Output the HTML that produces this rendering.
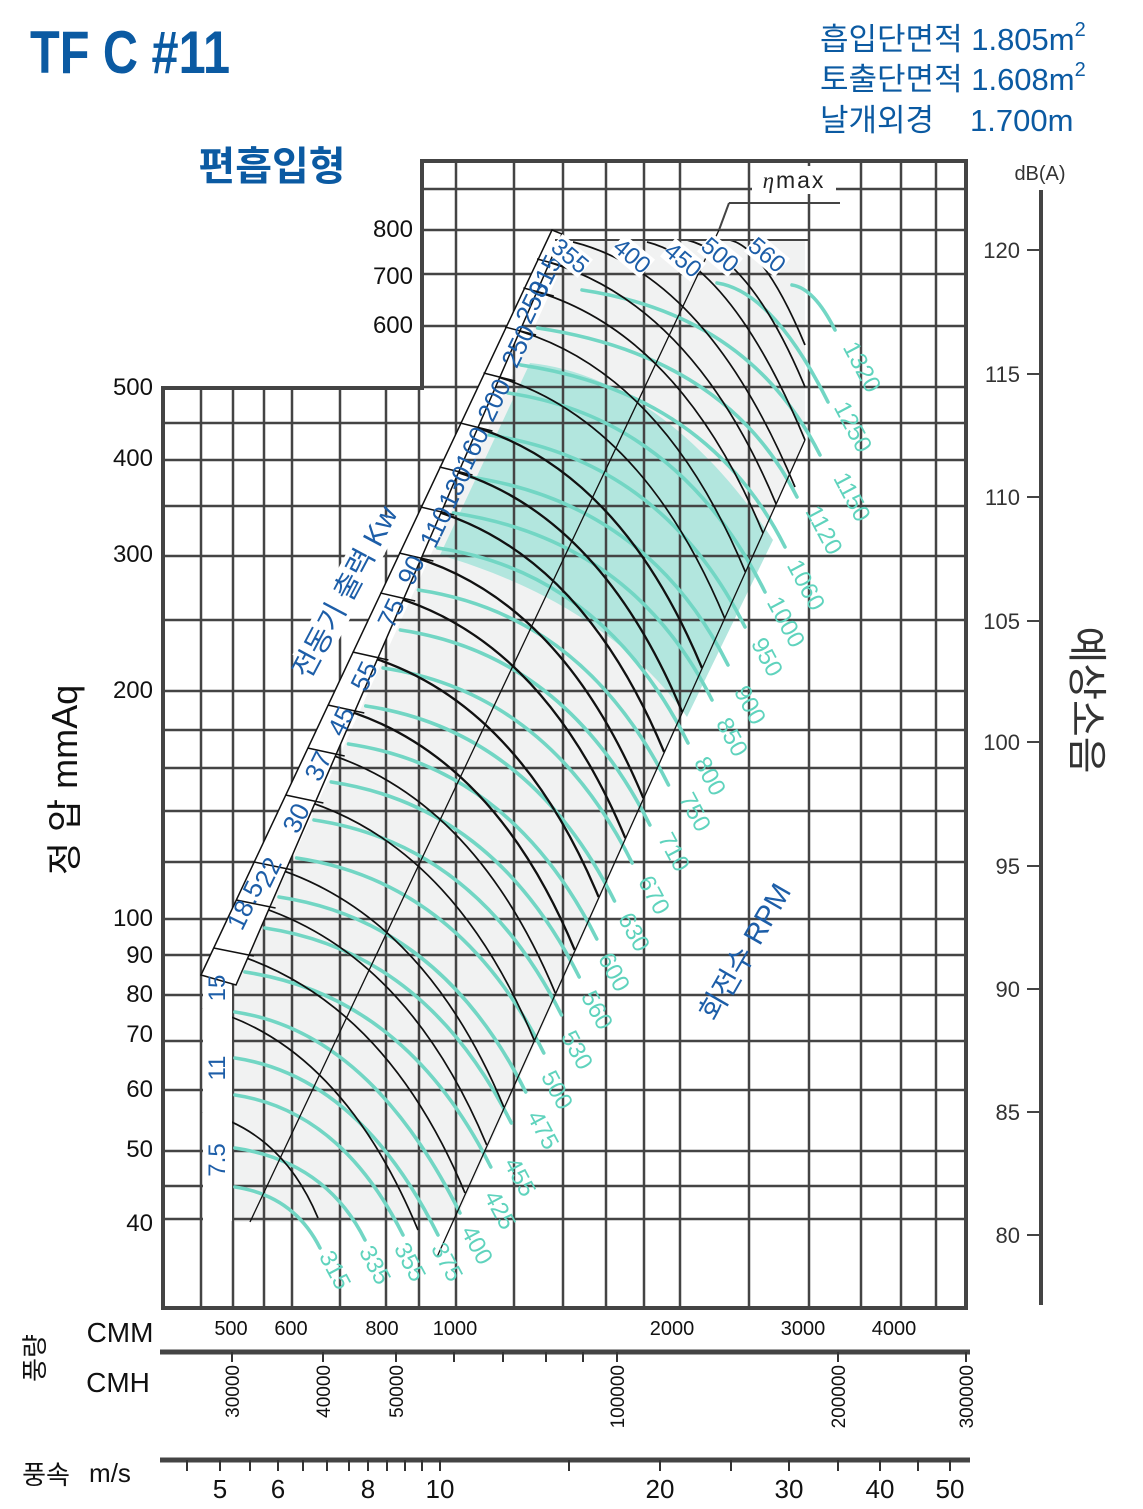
<!DOCTYPE html>
<html><head><meta charset="utf-8">
<style>
html,body{margin:0;padding:0;background:#fff;}
body{width:1143px;height:1509px;overflow:hidden;font-family:"Liberation Sans","Noto Sans CJK KR",sans-serif;}
svg{display:block}
</style></head><body>
<svg id="s" width="1143" height="1509" viewBox="0 0 1143 1509" xmlns="http://www.w3.org/2000/svg" font-family="Liberation Sans, Noto Sans CJK KR, sans-serif">
<rect width="1143" height="1509" fill="#fff"/>
<!-- light region -->
<polygon points="235,1222 235,985 574,240 805,240 805,440 455,1222" fill="#f1f2f2"/>
<!-- teal shaded region -->
<path d="M530,363 C600,370 690,415 773,540 L687,717 C640,650 560,590 440,555 Z" fill="#b2e6de"/>
<g id="grid" stroke="#444" stroke-width="2.5"></g>
<g id="curves"></g>
<!-- band -->
<polygon points="201,975 552,230 562,234 236,985" fill="#fff" stroke="#111" stroke-width="1.5"/>
<rect x="203" y="986" width="29" height="235" fill="#fff"/>
<g id="ticks" stroke="#111" stroke-width="1.5"></g>
<!-- frame -->
<polygon points="163,1308 163,388 422,388 422,161 966,161 966,1308" fill="none" stroke="#444" stroke-width="4"/>
<!-- top bracket -->
<line x1="555" y1="240" x2="809" y2="240" stroke="#444" stroke-width="2"/>
<line x1="729" y1="203" x2="840" y2="203" stroke="#444" stroke-width="2"/>
<line x1="729" y1="203" x2="719" y2="230" stroke="#444" stroke-width="2"/>
<rect x="752" y="166" width="84" height="28" fill="#fff"/>
<text x="794" y="188" font-size="23" text-anchor="middle" fill="#222" letter-spacing="2"><tspan font-style="italic" font-family="Liberation Serif, serif">η</tspan>max</text>
<g id="labels"></g>
</svg>
<script>
var NS="http://www.w3.org/2000/svg";
function el(p,t,a,txt){var e=document.createElementNS(NS,t);for(var k in a)e.setAttribute(k,a[k]);if(txt!==undefined)e.textContent=txt;p.appendChild(e);return e;}
var g=document.getElementById('grid'),c=document.getElementById('curves'),tk=document.getElementById('ticks'),lb=document.getElementById('labels');
var xs=[201,233,264,292,340,386,419,456,514,563,606,644,680,749,809,861,901,936];
xs.forEach(function(x){el(g,'line',{x1:x,y1:(x>422?161:388),x2:x,y2:1308});});
[189,230,274,326,387].forEach(function(y){el(g,'line',{x1:422,y1:y,x2:966,y2:y});});
[423,460,506,556,620,691,730,768,811,862,919,955,995,1041,1090,1151,1186,1219].forEach(function(y){el(g,'line',{x1:163,y1:y,x2:966,y2:y});});
function quad(S,E,s0,s1){var dx=E[0]-S[0],dy=E[1]-S[1];var u=(s1*dx-dy)/(s1-s0);if(u<0.05*dx)u=0.05*dx;if(u>0.95*dx)u=0.95*dx;var C=[S[0]+u,S[1]+s0*u];return "M"+S[0]+","+S[1]+" Q"+C[0].toFixed(1)+","+C[1].toFixed(1)+" "+E[0]+","+E[1];}
function xL(y){return 201+(975-y)/2.13;}
function xR(y){return 235+(985-y)/2.2;}
function xB(y){return 465+(1193-y)/2.215;}
function xT(y){return 488+(1173-y)/2.15;}
var teal=[["315",1187,[320,1248]],["335",1148,[365,1240]],["355",1095,[403,1235]],["375",1058,[438,1235]],["400",1012,[460,1213]],["425",972],["455",928],["475",897],["500",858],["530",820],["560",782],["600",744],["630",706],["670",668],["710",630],["750",590],["800",548],["850",513,[712,700]],["900",477,[728,665]],["950",435,[745,627]],["1000",393,[765,592]],["1060",365,[785,547]],["1120",328,[797,497]],["1150",290,[820,455],582],["1250",283,[828,402],717],["1320",285,[835,330],792]];
teal.forEach(function(t){var sy=t[1];var sx=t[3]||(sy>985?235:xR(sy)+4);var E=t[2];if(!E){var ey=sy+195;E=[+xT(ey).toFixed(1),ey];}
el(c,'path',{d:quad([+sx.toFixed(1),sy],E,0.15,2.0),fill:'none',stroke:'#72d6c4','stroke-width':3.6,'stroke-linecap':'round'});});
var blk=[[730,240,805,345],[687,240,805,387],[647,242,805,440],[573,242,795,487],[0,259],[0,288],[0,327],[0,373],[0,423],[0,467],[0,507],[0,553],[0,593],[0,652],[0,705],[0,748],[0,795],[0,862],[0,900],[0,948],[203,1008,418,1230],[203,1112,318,1218]];
blk.forEach(function(b){var sx=b[0]||xL(b[1]),sy=b[1],E;if(b[2])E=[b[2],b[3]];else{var ey=Math.min(sy+245,1195);E=[+xB(ey).toFixed(1),ey];}
el(c,'path',{d:quad([+sx.toFixed(1),sy],E,0.25,2.4),fill:'none',stroke:'#111','stroke-width':(sy>400&&sy<720?2.3:1.7)});
if(b[0]===0)el(tk,'line',{x1:xL(sy).toFixed(1),y1:sy,x2:(xR(sy)+2).toFixed(1),y2:sy+8});});
el(c,'line',{x1:250,y1:1222,x2:719,y2:230,stroke:'#111','stroke-width':1.3});
el(c,'line',{x1:437,y1:1257,x2:805,y2:440,stroke:'#111','stroke-width':1.3});
var tl=[["315",335,1270],["335",375,1265],["355",410,1262],["375",447,1262],["400",477,1245],["425",500,1210],["455",520,1177],["475",543,1130],["500",557,1090],["530",577,1050],["560",597,1010],["600",614,972],["630",634,932],["670",654,895],["710",674,852],["750",695,812],["800",710,776],["850",732,737],["900",750,705],["950",767,657],["1000",786,622],["1060",806,585],["1120",824,530],["1150",852,497],["1250",853,427],["1320",862,367]];
tl.forEach(function(t){el(lb,'text',{x:t[1],y:t[2]+8,'font-size':24,fill:'#5fd3bd','text-anchor':'middle',transform:'rotate(62 '+t[1]+' '+t[2]+')'},t[0]);});
var kw=[["18.5",245,905],["22",268,872],["30",296,818],["37",318,766],["45",341,721],["55",364,676],["75",391,613],["90",411,570],["110",436,527],["130",455,487],["160",472,448],["200",494,400],["250",518,346],["250",532,302],["315",545,276]];
kw.forEach(function(t){el(lb,'text',{x:t[1],y:t[2]+9,'font-size':26,fill:'#1d5ea8','text-anchor':'middle',transform:'rotate(-64 '+t[1]+' '+t[2]+')'},t[0]);});
[["15",217,988],["11",217,1068],["7.5",217,1160]].forEach(function(t){el(lb,'text',{x:t[1],y:t[2]+8,'font-size':24,fill:'#1d5ea8','text-anchor':'middle',transform:'rotate(-90 '+t[1]+' '+t[2]+')'},t[0]);});
[["355",570,256],["400",632,256],["450",683,260],["500",720,255],["560",767,255]].forEach(function(t){el(lb,'rect',{x:t[1]-20,y:t[2]-12,width:40,height:24,fill:'#fff',transform:'rotate(40 '+t[1]+' '+t[2]+')'});el(lb,'text',{x:t[1],y:t[2]+8,'font-size':24,fill:'#1d5ea8','text-anchor':'middle',transform:'rotate(40 '+t[1]+' '+t[2]+')'},t[0]);});
el(lb,'rect',{x:265,y:575,width:165,height:34,fill:'#fff',transform:'rotate(-62 345 592)'});
el(lb,'text',{x:345,y:602,'font-size':29,fill:'#1d5ea8','text-anchor':'middle',transform:'rotate(-62 345 592)'},'전동기 출력 Kw');
el(lb,'text',{x:745,y:962,'font-size':29,fill:'#1d5ea8','text-anchor':'middle',transform:'rotate(-60 745 952)'},'회전수 RPM');
[["800",228],["700",275],["600",324]].forEach(function(t){el(lb,'text',{x:413,y:t[1]+9,'font-size':24,'text-anchor':'end',fill:'#111'},t[0]);});
[["500",386],["400",457],["300",553],["200",689],["100",917],["90",954],["80",993],["70",1033],["60",1088],["50",1148],["40",1222]].forEach(function(t){el(lb,'text',{x:153,y:t[1]+9,'font-size':24,'text-anchor':'end',fill:'#111'},t[0]);});
el(lb,'text',{x:65,y:792,'font-size':36,'text-anchor':'middle',fill:'#111',transform:'rotate(-90 65 780)'},'정 압 mmAq');
el(lb,'line',{x1:1041,y1:190,x2:1041,y2:1305,stroke:'#444','stroke-width':4});
[["120",250],["115",374],["110",497],["105",621],["100",742],["95",866],["90",989],["85",1112],["80",1235]].forEach(function(t){el(lb,'line',{x1:1027,y1:t[1],x2:1041,y2:t[1],stroke:'#444','stroke-width':2});el(lb,'text',{x:1020,y:t[1]+8,'font-size':22,'text-anchor':'end',fill:'#333'},t[0]);});
el(lb,'text',{x:1040,y:180,'font-size':20,'text-anchor':'middle',fill:'#333'},'dB(A)');
el(lb,'text',{x:1085,y:712,'font-size':40,'text-anchor':'middle',fill:'#333',transform:'rotate(90 1085 700)'},'예상소음');
el(lb,'line',{x1:160,y1:1352,x2:970,y2:1352,stroke:'#444','stroke-width':5});
el(lb,'line',{x1:160,y1:1460,x2:970,y2:1460,stroke:'#444','stroke-width':5});
[["500",231],["600",291],["800",382],["1000",455],["2000",672],["3000",803],["4000",894]].forEach(function(t){el(lb,'text',{x:t[1],y:1335,'font-size':20,'text-anchor':'middle',fill:'#111'},t[0]);});
[[232,"30000"],[323,"40000"],[396,"50000"],[454],[503],[546],[583],[617,"100000"],[838,"200000"],[966,"300000"]].forEach(function(t){el(lb,'line',{x1:t[0],y1:1352,x2:t[0],y2:1362,stroke:'#333','stroke-width':2});if(t[1]){el(lb,'text',{x:t[0],y:1365,'font-size':19,'text-anchor':'end',fill:'#111',transform:'rotate(-90 '+t[0]+' 1365)',dy:7},t[1]);}});
[[187],[220,"5"],[250],[278,"6"],[303],[327],[349],[368,"8"],[387],[405],[422],[440,"10"],[569],[660,"20"],[731],[789,"30"],[838],[880,"40"],[918],[950,"50"]].forEach(function(t){el(lb,'line',{x1:t[0],y1:1460,x2:t[0],y2:1471,stroke:'#333','stroke-width':2});if(t[1])el(lb,'text',{x:t[0],y:1498,'font-size':26,'text-anchor':'middle',fill:'#111'},t[1]);});
el(lb,'text',{x:120,y:1342,'font-size':28,'text-anchor':'middle',fill:'#111'},'CMM');
el(lb,'text',{x:118,y:1392,'font-size':28,'text-anchor':'middle',fill:'#111'},'CMH');
el(lb,'text',{x:35,y:1367,'font-size':26,'text-anchor':'middle',fill:'#111',transform:'rotate(-90 35 1358)'},'풍량');
el(lb,'text',{x:46,y:1484,'font-size':26,'text-anchor':'middle',fill:'#111'},'풍속');
el(lb,'text',{x:110,y:1482,'font-size':26,'text-anchor':'middle',fill:'#111'},'m/s');
el(lb,'text',{x:30,y:73,'font-size':60,'font-weight':'bold',fill:'#0b5aa2',textLength:200,lengthAdjust:'spacingAndGlyphs'},'TF C #11');
el(lb,'text',{x:272,y:180,'font-size':40,'text-anchor':'middle',fill:'#0b5aa2','font-weight':'bold'},'편흡입형');
var tr=[["흡입단면적 1.805m",50],["토출단면적 1.608m",90]];
tr.forEach(function(t){var e=el(lb,'text',{x:820,y:t[1],'font-size':31,fill:'#0b5aa2'},t[0]);el(e,'tspan',{dy:-14,'font-size':20},'2');});
el(lb,'text',{x:820,y:131,'font-size':31,fill:'#0b5aa2'},'날개외경');
el(lb,'text',{x:970,y:131,'font-size':31,fill:'#0b5aa2'},'1.700m');
</script>
</body></html>
